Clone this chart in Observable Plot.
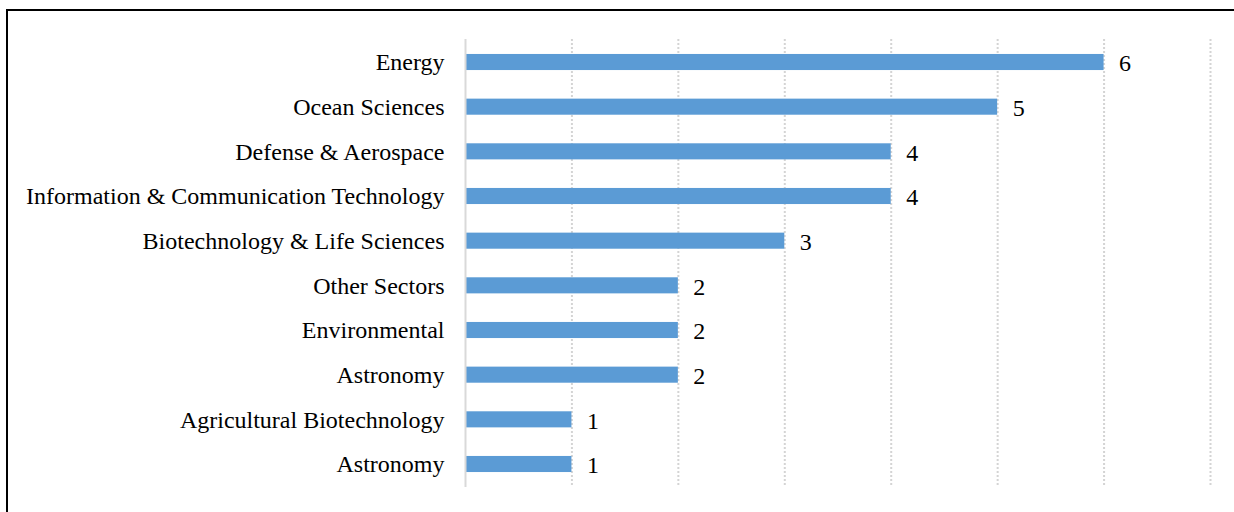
<!DOCTYPE html>
<html>
<head>
<meta charset="utf-8">
<script src="https://cdn.jsdelivr.net/npm/d3@7"></script>
<script src="https://cdn.jsdelivr.net/npm/@observablehq/plot@0.6"></script>
<style>
  html, body { margin: 0; padding: 0; background: #fff; width: 1234px; height: 512px; overflow: hidden; }
  #frame { position: absolute; left: 6px; top: 9px; width: 1300px; height: 600px; border-top: 2px solid #000; border-left: 2px solid #000; }
  #chart { position: absolute; left: 0; top: 0; }
</style>
</head>
<body>
<div id="frame"></div>
<div id="chart"></div>
<script>
const categories = [
  "Energy",
  "Ocean Sciences",
  "Defense & Aerospace",
  "Information & Communication Technology",
  "Biotechnology & Life Sciences",
  "Other Sectors",
  "Environmental",
  "Astronomy",
  "Agricultural Biotechnology",
  "Astronomy"
];
const values = [6, 5, 4, 4, 3, 2, 2, 2, 1, 1];
const xTicks = [0, 1, 2, 3, 4, 5, 6, 7];

const data = categories.map((c, i) => ({idx: i, label: c, value: values[i]}));

const chart = Plot.plot({
  width: 1234,
  height: 512,
  marginLeft: 465,
  marginRight: 24,
  marginTop: 39,
  marginBottom: 25,
  style: {fontFamily: "'Liberation Serif', 'Times New Roman', serif", fontSize: "24px", color: "#000", background: "transparent"},
  x: {domain: [0, 7], axis: null},
  y: {domain: data.map(d => d.idx), paddingInner: 0.64, paddingOuter: 0.335, round: false, label: null, tickFormat: i => categories[i], tickSize: 0, tickPadding: 21},
  marks: [
    Plot.ruleX(xTicks.filter(t => t > 0), {stroke: "#d4d4d4", strokeWidth: 2, strokeDasharray: "2,2"}),
    Plot.barX(data, {x: "value", y: "idx", fill: "#5b9bd5"}),
    Plot.ruleX([0], {stroke: "#d9d9d9", strokeWidth: 2}),
    Plot.text(data, {x: "value", y: "idx", text: d => String(d.value), textAnchor: "start", dx: 15, dy: 1, fill: "#000", fontSize: 24})
  ]
});
document.getElementById("chart").appendChild(chart);
</script>
</body>
</html>
